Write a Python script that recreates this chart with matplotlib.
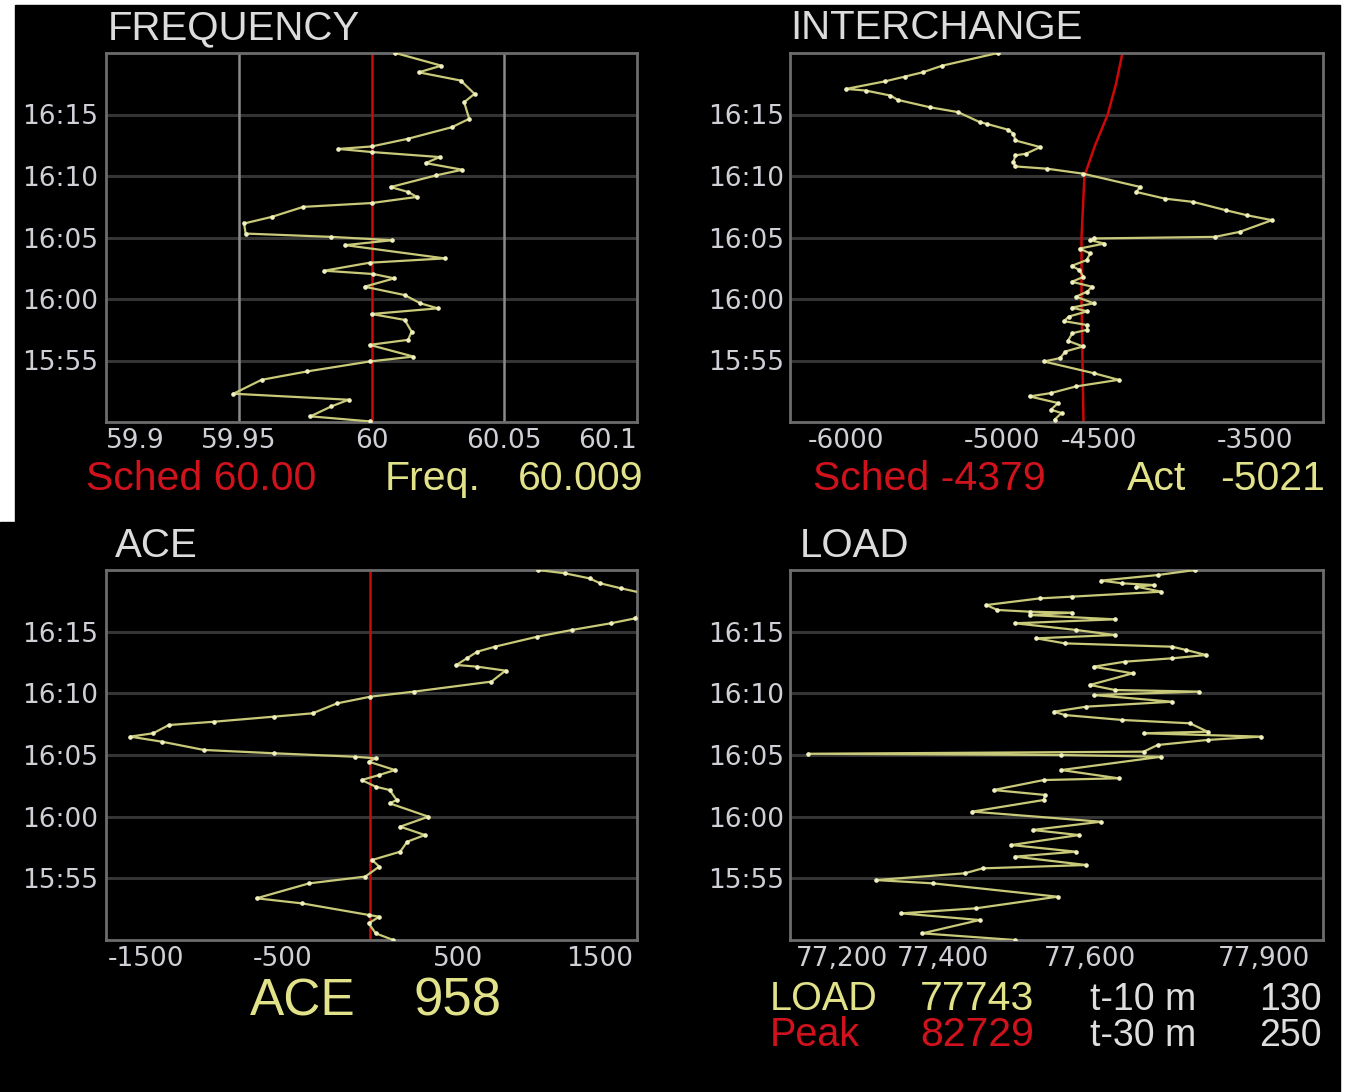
import matplotlib
matplotlib.use("Agg")
import matplotlib.pyplot as plt
from matplotlib.patches import Rectangle

# Minutes after 15:50 on the vertical axis of every panel
time_ticks = [5, 10, 15, 20, 25]
time_labels = ["15:55", "16:00", "16:05", "16:10", "16:15"]

# FREQUENCY (Hz)
freq_t = [0.05, 0.46, 1.27, 1.81, 2.3, 3.43, 4.11, 4.92, 5.32, 6.27, 6.68, 7.35,
          8.3, 8.78, 9.24, 9.65, 10.32, 11.0, 11.68, 12.03, 12.3, 12.95, 13.3,
          14.38, 14.78, 15.05, 15.32, 16.14, 16.68, 17.49, 17.8, 18.3, 18.7,
          19.1, 20.05, 20.51, 21.05, 21.54, 21.95, 22.2, 22.4, 23.03, 23.97,
          24.65, 26.0, 26.68, 27.76, 28.43, 28.97, 30.0]
freq_val = [59.9993, 59.977, 59.9849, 59.9914, 59.948, 59.9586, 59.9757, 59.9993,
            60.0158, 59.9993, 60.0138, 60.0151, 60.0125, 60.0, 60.025, 60.0184,
            60.0125, 59.9974, 60.0086, 60.0007, 59.9822, 59.9993, 60.0276,
            59.9901, 60.0079, 59.9849, 59.9526, 59.952, 59.9625, 59.9743, 60.0,
            60.0171, 60.0138, 60.0072, 60.0243, 60.0342, 60.0204, 60.0257, 60.0,
            59.9875, 60.0, 60.0138, 60.0303, 60.0368, 60.0349, 60.0388, 60.0336,
            60.0178, 60.0263, 60.009]
freq_sched = 60.00
freq_ticks = [59.9, 59.95, 60.0, 60.05, 60.1]
freq_ticklabels = ["59.9", "59.95", "60", "60.05", "60.1"]

# INTERCHANGE (MW)
inter_t = [0.19, 0.73, 1.0, 1.54, 2.08, 2.35, 2.89, 3.43, 3.97, 4.92, 5.2, 5.73,
           6.14, 6.6, 7.22, 7.5, 7.89, 8.2, 8.57, 9.0, 9.3, 9.65, 10.19, 10.6,
           11.0, 11.4, 11.8, 12.35, 12.7, 13.16, 13.7, 14.1, 14.51, 14.78, 14.92,
           15.05, 15.46, 16.41, 16.81, 17.22, 17.89, 18.16, 18.7, 19.11, 20.19,
           20.59, 20.78, 21.14, 21.68, 21.81, 22.35, 22.89, 23.43, 23.76, 24.24,
           24.38, 25.19, 25.59, 26.19, 26.54, 26.95, 27.08, 27.7, 28.08, 28.43,
           28.97, 30.0]
inter_val = [-4729, -4693, -4748, -4711, -4858, -4748, -4619, -4399, -4527, -4784,
             -4700, -4674, -4582, -4660, -4637, -4560, -4564, -4680, -4656, -4560,
             -4640, -4527, -4619, -4560, -4536, -4640, -4580, -4601, -4640, -4564,
             -4545, -4600, -4472, -4545, -4527, -3902, -3774, -3608, -3737, -3847,
             -4013, -4160, -4307, -4288, -4582, -4766, -4931, -4941, -4931, -4876,
             -4803, -4931, -4941, -4968, -5079, -5115, -5226, -5372, -5538, -5575,
             -5703, -5804, -5602, -5501, -5409, -5308, -5021]
sched_t = [0, 5, 10, 15, 20, 22.5, 25, 27.5, 30]
sched_val = [-4580, -4585, -4590, -4590, -4575, -4520, -4455, -4412, -4379]
inter_ticks = [-6000, -5000, -4500, -3500]
inter_ticklabels = ["-6000", "-5000", "-4500", "-3500"]

# ACE (MW)
ace_t = [0.0, 0.54, 1.35, 1.89, 2.03, 2.97, 3.38, 4.59, 5.14, 5.95, 6.49, 7.16,
         7.97, 8.51, 9.19, 10.0, 11.08, 11.35, 12.16, 12.43, 12.97, 13.38, 13.78,
         14.46, 14.73, 14.86, 15.14, 15.41, 16.08, 16.49, 16.76, 17.43, 17.7,
         18.11, 18.38, 19.19, 19.73, 20.14, 20.95, 21.84, 22.16, 22.3, 22.84,
         23.38, 23.78, 24.59, 25.14, 25.68, 26.08, 26.76, 27.4, 28.11, 28.51,
         28.92, 29.32, 29.73, 30.0]
ace_val = [130, 30, -10, 50, -10, -391, -651, -351, -30, 50, 10, 170, 210, 311,
           170, 331, 110, 150, 110, 30, -50, 50, 140, -10, 30, -90, -551, -952,
           -1192, -1373, -1242, -1152, -892, -551, -331, -190, 0, 250, 691, 772,
           611, 491, 551, 611, 711, 952, 1152, 1373, 1513, 1560, 1800, 1560, 1433,
           1313, 1252, 1112, 958]
ace_sched = 0
ace_ticks = [-1500, -500, 500, 1500]
ace_ticklabels = ["-1500", "-500", "500", "1500"]

# LOAD (MW)
load_t = [0.0, 0.54, 1.62, 2.16, 2.57, 3.51, 4.59, 4.86, 5.41, 5.81, 6.08, 6.76,
          7.16, 7.7, 8.51, 8.92, 9.59, 10.41, 11.35, 11.76, 12.16, 12.97, 13.11,
          13.78, 14.86, 15.0, 15.1, 15.27, 15.81, 16.22, 16.49, 16.76, 16.89,
          17.57, 17.84, 18.24, 18.51, 18.92, 19.32, 19.86, 20.14, 20.27, 20.68,
          21.62, 22.16, 22.57, 22.84, 23.11, 23.51, 23.78, 24.05, 24.46, 24.73,
          25.14, 25.68, 26.0, 26.35, 26.54, 26.62, 26.76, 27.16, 27.7, 27.84,
          28.24, 28.65, 28.78, 28.92, 29.14, 29.59, 30.0]
load_val = [77498, 77372, 77450, 77343, 77445, 77556, 77387, 77309, 77430, 77454,
            77595, 77498, 77581, 77493, 77585, 77522, 77615, 77440, 77537, 77539,
            77469, 77537, 77639, 77561, 77697, 77561, 77217, 77673, 77692, 77760,
            77833, 77673, 77760, 77736, 77644, 77566, 77551, 77595, 77712, 77605,
            77748, 77634, 77600, 77658, 77605, 77648, 77712, 77758, 77731, 77712,
            77566, 77527, 77634, 77581, 77498, 77634, 77518, 77576, 77518, 77474,
            77459, 77532, 77576, 77697, 77663, 77687, 77644, 77615, 77692, 77743]
load_ticks = [77200, 77400, 77600, 77900]
load_ticklabels = ["77,200", "77,400", "77,600", "77,900"]
load_peak = 82729
load_t10 = 130
load_t30 = 250

W, H = 1353, 1092
YELLOW = "#c9c97a"
DOT = "#f0f0c0"
TXT_YELLOW = "#e2e28a"
TXT_RED = "#d0121c"
LINE_RED = "#cc0808"
GRAY_TXT = "#cfcfd6"

plt.rcParams['font.family'] = ['Liberation Sans', 'DejaVu Sans']

fig = plt.figure(figsize=(W / 100, H / 100), dpi=100, facecolor="white")


def fx(px):
    return px / W


def fy(py):
    return 1 - py / H


# black display area, kept behind the axes
fig.patches.append(Rectangle((fx(15), 0), fx(1340) - fx(15), fy(5),
                             transform=fig.transFigure, color="black", zorder=-10))
fig.patches.append(Rectangle((0, 0), fx(16), fy(522),
                             transform=fig.transFigure, color="black", zorder=-10))


def panel(x0, y0, x1, y1, xlim, ticks, ticklabels, ypad):
    ax = fig.add_axes([fx(x0), fy(y1), (x1 - x0) / W, (y1 - y0) / H])
    ax.set_facecolor("black")
    ax.set_xlim(*xlim)
    ax.set_ylim(0, 30)
    ax.set_yticks(time_ticks)
    ax.set_yticklabels(time_labels, family="DejaVu Sans")
    ax.set_xticks(ticks)
    ax.set_xticklabels(ticklabels, family="DejaVu Sans")
    for t in time_ticks:
        ax.axhline(t, color="#343434", lw=2.2, zorder=1)
    for s in ax.spines.values():
        s.set_color("#6c6c6c")
        s.set_linewidth(2)
    ax.tick_params(length=0, colors=GRAY_TXT, labelsize=19)
    ax.tick_params(axis="y", pad=ypad)
    ax.tick_params(axis="x", pad=4)
    labels = ax.get_xticklabels()
    labels[0].set_ha("left")
    labels[-1].set_ha("right")
    return ax


def trace(ax, vals, ts):
    ax.plot(vals, ts, color=YELLOW, lw=1.6, zorder=3)
    ax.plot(vals, ts, ls="none", marker="o", ms=2.3, color=DOT, zorder=4)


# FREQUENCY
ax1 = panel(106, 53, 637, 422, (59.9, 60.1), freq_ticks, freq_ticklabels, 6)
for v in (59.95, 60.05):
    ax1.axvline(v, color="#8a8a8a", lw=1.8, zorder=1)
ax1.axvline(freq_sched, color=LINE_RED, lw=1.8, zorder=2)
trace(ax1, freq_val, freq_t)

# INTERCHANGE
ax2 = panel(790, 53, 1323, 422, (-6093, -3345), inter_ticks, inter_ticklabels, 4.5)
ax2.plot(sched_val, sched_t, color=LINE_RED, lw=1.8, zorder=2)
trace(ax2, inter_val, inter_t)

# ACE
ax3 = panel(106, 570, 637, 940, (-1511, 1523), ace_ticks, ace_ticklabels, 6)
ax3.axvline(ace_sched, color=LINE_RED, lw=1.8, zorder=2)
trace(ax3, ace_val, ace_t)

# LOAD
ax4 = panel(790, 570, 1323, 940, (77192, 77917), load_ticks, load_ticklabels, 4.5)
trace(ax4, load_val, load_t)


def label(x, y, s, color, size, ha="left"):
    fig.text(fx(x), fy(y), s, color=color, fontsize=size, ha=ha, va="baseline")


# panel titles
label(108, 39, "FREQUENCY", "#dcdcdc", 29)
label(790, 39, "INTERCHANGE", "#dcdcdc", 29)
label(115, 557, "ACE", "#dcdcdc", 29)
label(800, 557, "LOAD", "#dcdcdc", 29)

# readouts
label(86, 490, f"Sched {freq_sched:.2f}", TXT_RED, 29.5)
label(385, 490, "Freq.", TXT_YELLOW, 29.5)
label(643, 490, f"{freq_val[-1]:.3f}", TXT_YELLOW, 29.5, ha="right")

label(813, 490, f"Sched {sched_val[-1]}", TXT_RED, 29.5)
label(1127, 490, "Act", TXT_YELLOW, 29.5)
label(1325, 490, f"{inter_val[-1]}", TXT_YELLOW, 29.5, ha="right")

label(250, 1015, "ACE", TXT_YELLOW, 37)
label(457, 1015, f"{ace_val[-1]}", TXT_YELLOW, 38, ha="center")

label(770, 1010, "LOAD", TXT_YELLOW, 28.5)
label(920, 1010, f"{load_val[-1]}", TXT_YELLOW, 29.5)
label(1090, 1010, "t-10 m", "#dedede", 27)
label(1322, 1010, f"{load_t10}", "#dedede", 27, ha="right")
label(770, 1046, "Peak", TXT_RED, 28.5)
label(920, 1046, f"{load_peak}", TXT_RED, 29.5)
label(1090, 1046, "t-30 m", "#dedede", 27)
label(1322, 1046, f"{load_t30}", "#dedede", 27, ha="right")

fig.savefig("out.png", dpi=100, facecolor=fig.get_facecolor())
